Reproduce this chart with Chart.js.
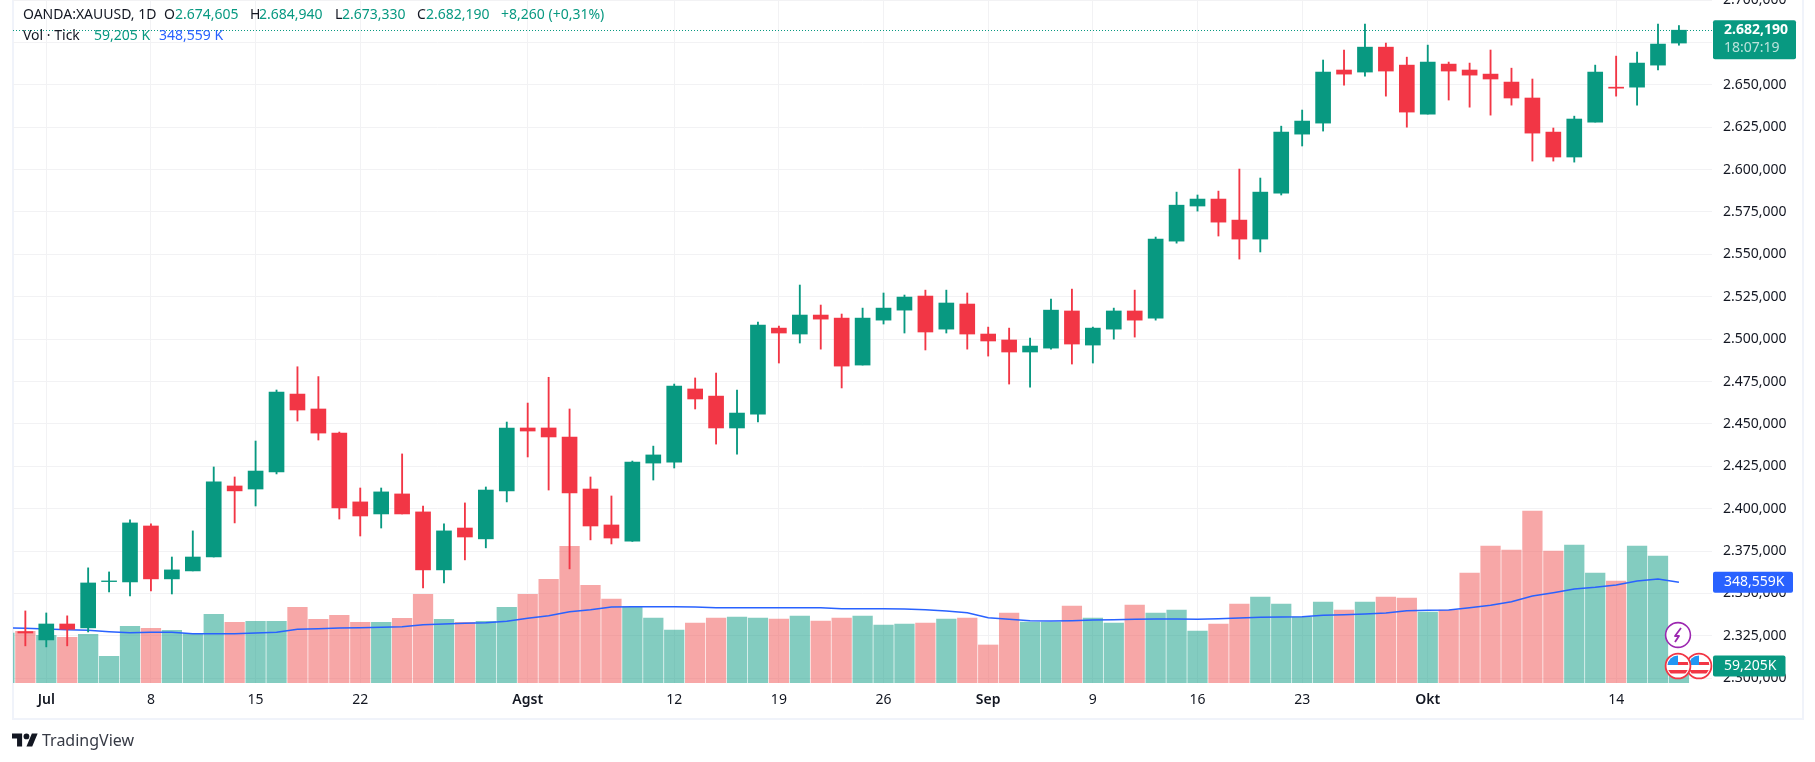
<!DOCTYPE html>
<html><head><meta charset="utf-8">
<script src="https://cdn.jsdelivr.net/npm/chart.js@4"></script>
<style>
html,body{margin:0;padding:0;background:#fff;overflow:hidden;width:1815px;height:762px}
#wrap{position:relative;width:1815px;height:762px;font-family:"Noto Sans",sans-serif}
#frame{position:absolute;left:12px;top:-2px;width:1788px;height:718px;border:2px solid #F0F3FA}
canvas{position:absolute;left:0;top:0}
.t{position:absolute;font-size:14px;line-height:18px;white-space:nowrap;color:#131722;transform:translateY(-50%)}
.g{color:#089981}.b{color:#2962FF}
.ic{position:absolute}
</style></head><body><div id="wrap">
<div id="frame"></div>
<canvas id="c" width="1815" height="762"></canvas>
<div class="t" style="left:23px;top:14px">OANDA:XAUUSD, 1D</div>
<div class="t" style="left:164px;top:14px">O</div><div class="t g" style="left:175px;top:14px">2.674,605</div>
<div class="t" style="left:250px;top:14px">H</div><div class="t g" style="left:259px;top:14px">2.684,940</div>
<div class="t" style="left:335px;top:14px">L</div><div class="t g" style="left:342px;top:14px">2.673,330</div>
<div class="t" style="left:417px;top:14px">C</div><div class="t g" style="left:426px;top:14px">2.682,190</div>
<div class="t g" style="left:501px;top:14px">+8,260 (+0,31%)</div>
<div class="t" style="left:23px;top:35px">Vol · Tick</div>
<div class="t g" style="left:94px;top:35px">59,205 K</div>
<div class="t b" style="left:159px;top:35px">348,559 K</div>
<svg class="ic" style="left:12px;top:733px" width="26" height="14" viewBox="0 4 36 18"><path fill="#131722" d="M14 22H7V11H0V4h14v18zM28 22h-8l7.5-18h8L28 22z"/><circle fill="#131722" cx="20" cy="8" r="4"/></svg>
<div class="t" style="left:42px;top:740px;font-size:16px;color:#363A45">TradingView</div>
<svg class="ic" style="left:1664px;top:621px" width="28" height="28" viewBox="0 0 28 28"><circle cx="14" cy="14" r="12.4" fill="#fff" stroke="#9C27B0" stroke-width="1.6"/><path d="M17 7l-6 8h4l-4 6" fill="none" stroke="#9C27B0" stroke-width="1.8" stroke-linejoin="round"/></svg>
<svg class="ic" style="left:1685px;top:652px" width="28" height="28" viewBox="0 0 28 28"><defs><clipPath id="k1"><circle cx="14" cy="14" r="10.5"/></clipPath></defs><circle cx="14" cy="14" r="12.4" fill="#fff" stroke="#F23645" stroke-width="1.8"/><g clip-path="url(#k1)"><rect x="3" y="10" width="22" height="3" fill="#F23645"/><rect x="3" y="18" width="22" height="3.5" fill="#F23645"/><rect x="3" y="3" width="11" height="10" fill="#2196F3"/></g></svg>
<svg class="ic" style="left:1664px;top:652px" width="28" height="28" viewBox="0 0 28 28"><defs><clipPath id="k2"><circle cx="14" cy="14" r="10.5"/></clipPath></defs><circle cx="14" cy="14" r="12.4" fill="#fff" stroke="#F23645" stroke-width="1.8"/><g clip-path="url(#k2)"><rect x="3" y="10" width="22" height="3" fill="#F23645"/><rect x="3" y="18" width="22" height="3.5" fill="#F23645"/><rect x="3" y="3" width="11" height="10" fill="#2196F3"/></g></svg>
</div>
<script>
const FONT='"Noto Sans",sans-serif';
const GRID='#F2F2F4';
const UP='#089981',DOWN='#F23645',UPV='rgba(8,153,129,0.5)',DOWNV='rgba(240,80,80,0.5)';
// daily candles from 28 Jun to 17 Oct
const opens=[2327.5,2322.6,2332.0,2329.7,2357.0,2356.8,2389.8,2358.6,2363.3,2371.5,2413.4,2411.6,2421.7,2467.6,2458.8,2444.6,2404.0,2396.9,2408.7,2398.1,2363.9,2388.6,2382.2,2410.5,2447.6,2447.6,2442.3,2411.6,2390.4,2380.9,2426.9,2427.5,2470.6,2466.4,2447.6,2455.8,2506.5,2503.0,2514.2,2512.4,2484.7,2511.2,2517.1,2525.4,2505.9,2520.7,2503.0,2499.5,2492.4,2494.7,2516.6,2496.5,2505.9,2516.6,2512.4,2557.8,2578.5,2582.6,2570.2,2559.0,2586.1,2620.9,2627.4,2658.7,2657.5,2672.2,2661.6,2632.7,2662.2,2658.7,2656.3,2651.6,2642.2,2622.1,2607.4,2628.0,2648.6,2648.6,2661.6,2674.605];
const highs=[2339.7,2338.5,2336.8,2365.1,2362.7,2393.4,2391.0,2371.5,2386.9,2424.6,2418.7,2439.9,2470.0,2483.7,2477.9,2445.2,2412.2,2412.2,2432.3,2401.6,2391.0,2403.4,2412.8,2451.1,2462.3,2477.5,2458.8,2418.7,2407.5,2428.1,2436.9,2473.5,2477.1,2480.0,2470.0,2510.1,2507.7,2531.9,2520.1,2514.8,2518.3,2527.2,2526.0,2528.9,2528.9,2527.2,2507.1,2506.5,2500.6,2523.6,2529.5,2507.1,2518.3,2528.9,2560.2,2586.7,2585.0,2587.3,2600.3,2595.0,2625.6,2635.1,2664.6,2670.5,2685.8,2674.6,2666.3,2673.4,2663.4,2662.8,2670.5,2659.8,2653.4,2624.5,2631.5,2661.6,2666.9,2669.3,2685.8,2684.94];
const lows=[2319.1,2318.5,2319.1,2327.3,2350.9,2348.6,2351.5,2349.7,2363.3,2371.5,2391.6,2401.6,2420.5,2451.7,2440.5,2393.9,2383.9,2388.6,2396.9,2353.3,2356.2,2369.8,2376.9,2404.0,2430.5,2411.0,2364.5,2381.6,2379.2,2380.7,2416.9,2424.0,2458.8,2438.1,2432.2,2451.1,2485.9,2497.7,2494.1,2471.2,2484.7,2508.9,2503.6,2493.6,2503.6,2494.1,2490.0,2473.5,2471.7,2494.1,2485.3,2485.9,2500.0,2501.2,2511.2,2556.6,2575.5,2560.8,2547.2,2551.4,2585.0,2613.9,2622.7,2649.8,2655.1,2643.3,2625.0,2632.7,2641.0,2636.8,2632.1,2638.0,2605.0,2605.0,2604.4,2628.0,2643.3,2638.0,2658.7,2673.33];
const closes=[2326.7,2332.0,2328.9,2356.2,2357.4,2391.6,2358.6,2363.9,2371.5,2415.8,2410.5,2422.2,2468.8,2458.2,2444.6,2400.4,2395.7,2409.9,2396.9,2363.9,2386.9,2383.3,2411.0,2447.6,2445.8,2442.3,2409.3,2389.8,2382.7,2427.5,2431.7,2472.3,2464.7,2447.6,2456.4,2508.3,2503.6,2514.2,2511.8,2484.1,2512.4,2518.3,2524.8,2504.2,2521.3,2503.0,2498.9,2492.4,2495.9,2517.1,2497.1,2506.5,2516.6,2511.2,2559.0,2579.0,2582.6,2569.0,2559.0,2586.7,2622.1,2628.6,2657.5,2656.3,2672.2,2658.1,2633.9,2663.4,2658.1,2655.7,2653.4,2642.2,2621.5,2607.4,2629.8,2657.5,2648.0,2662.8,2674.0,2682.19];
// tick volume in thousands
const volumes=[178.8,164.9,158.0,168.4,92.3,196.0,189.2,182.2,170.7,237.6,209.9,213.4,213.4,261.8,220.3,234.1,209.9,209.9,223.8,306.8,220.3,209.9,213.4,261.8,306.8,358.7,472.9,337.9,290.7,263.0,224.9,183.4,207.6,224.9,228.4,224.9,221.5,231.8,214.5,224.9,231.8,200.7,204.2,207.6,221.5,224.9,131.5,242.2,211.0,211.0,266.4,224.9,207.6,269.9,242.2,252.6,179.9,204.2,273.4,297.6,273.4,228.4,280.3,252.6,280.3,297.6,294.1,245.7,252.6,380.6,474.0,460.2,595.2,456.7,477.5,380.6,352.9,474.0,439.4,59.205];
const volMA=[189.2,186.8,184.5,182.2,177.6,174.2,175.3,175.3,170.7,170.7,170.7,173.0,175.3,185.7,188.0,190.3,191.5,192.6,194.9,201.8,204.2,206.5,208.8,213.4,223.8,233.0,246.8,253.7,263.0,264.0,264.0,264.0,263.0,260.7,260.7,260.7,260.7,260.7,260.7,257.2,257.2,257.2,256.0,253.7,249.1,243.4,226.0,220.3,215.7,214.5,215.7,218.0,219.1,220.3,221.5,221.5,220.3,222.6,224.9,227.2,228.4,229.5,234.1,236.4,238.8,242.2,250.3,251.4,252.6,260.7,268.7,281.4,301.0,312.6,325.3,331.0,339.1,352.9,359.9,348.559];
// the session before the first candle: only its volume sliver and MA are visible
const priorVolume=173, priorMA=191.5;
// x-axis tick labels: bar number -> text
const xTickBars=[1,6,11,16,24,31,36,41,46,51,56,61,67,76];
const xTickText=['Jul','8','15','22','Agst','12','19','26','Sep','9','16','23','Okt','14'];
const xTickBold=['Jul','Agst','Sep','Okt'];
const lastPrice=2682.19, countdown='18:07:19', lastVolText='59,205 K', lastMAText='348,559 K', lastPriceText='2.682,190';

const idx=opens.map((_,i)=>i);
const isUp=i=>closes[i]>=opens[i];
const fmtPrice=v=>{const s=String(Math.round(v));return s[0]+'.'+s.slice(1)+',000';};

const overlay={id:'overlay',
 beforeDatasetsDraw(ch){const {ctx,chartArea:a,scales:{y}}=ch;const p=Math.round(y.getPixelForValue(lastPrice))+.5;
  ctx.save();ctx.strokeStyle=UP;ctx.lineWidth=1;ctx.setLineDash([1,2]);ctx.beginPath();ctx.moveTo(a.left,p);ctx.lineTo(a.right,p);ctx.stroke();ctx.restore();},
 afterDraw(ch){const {ctx,chartArea:a,scales:{y,v}}=ch;ctx.save();ctx.textBaseline='middle';ctx.textAlign='left';
  const L=a.right+1;
  const pp=y.getPixelForValue(lastPrice);
  ctx.fillStyle=UP;ctx.beginPath();ctx.roundRect(L,pp-10,83,39,2);ctx.fill();
  ctx.fillStyle='#fff';ctx.font='bold 14px '+FONT;ctx.fillText(lastPriceText,a.right+12,pp);
  ctx.fillStyle='rgba(255,255,255,.72)';ctx.font='14px '+FONT;ctx.fillText(countdown,a.right+12,pp+18);
  const mp=v.getPixelForValue(volMA[volMA.length-1]);
  ctx.fillStyle='#2962FF';ctx.beginPath();ctx.roundRect(L,mp-10.5,80,21,2);ctx.fill();
  ctx.fillStyle='#fff';ctx.font='14px '+FONT;ctx.fillText(lastMAText.replace(' ',''),a.right+12,mp);
  const vp=v.getPixelForValue(volumes[volumes.length-1]);
  ctx.fillStyle=UP;ctx.beginPath();ctx.roundRect(L,vp-10.5,72.5,21,2);ctx.fill();
  ctx.fillStyle='#fff';ctx.fillText(lastVolText.replace(' ',''),a.right+12,vp);
  ctx.restore();}
};

new Chart(document.getElementById('c'),{
 type:'bar',
 plugins:[overlay],
 data:{datasets:[
  {label:'Body',yAxisID:'y',grouped:false,order:1,barThickness:15,
   data:idx.map(i=>({x:i,y:[opens[i],closes[i]]})),backgroundColor:idx.map(i=>isUp(i)?UP:DOWN)},
  {label:'Wick',yAxisID:'y',grouped:false,order:2,barThickness:1.2,
   data:idx.map(i=>({x:i,y:[lows[i],highs[i]]})),backgroundColor:idx.map(i=>isUp(i)?UP:DOWN)},
  {type:'line',label:'Vol MA',yAxisID:'v',order:3,borderColor:'#2962FF',borderWidth:1.5,pointRadius:0,tension:0,
   data:[{x:-1,y:priorMA},...idx.map(i=>({x:i,y:volMA[i]}))]},
  {label:'Volume',yAxisID:'v',grouped:false,order:4,barThickness:19.6,
   data:[{x:-1,y:priorVolume},...idx.map(i=>({x:i,y:volumes[i]}))],
   backgroundColor:[UPV,...idx.map(i=>isUp(i)?UPV:DOWNV)]}
 ]},
 options:{responsive:false,animation:false,devicePixelRatio:1,events:[],
  layout:{padding:{left:13,right:0,top:0,bottom:0}},
  plugins:{legend:{display:false},tooltip:{enabled:false}},
  scales:{
   x:{type:'linear',offset:false,min:-0.59,max:80.58,
    border:{display:false},
    grid:{color:GRID,lineWidth:1,drawTicks:false,offset:false},
    afterBuildTicks(s){s.ticks=xTickBars.map(v=>({value:v}));},
    afterFit(s){s.height=79;s.paddingLeft=0;s.paddingRight=0;},
    ticks:{autoSkip:false,maxRotation:0,padding:9,color:'#131722',
     callback:v=>xTickText[xTickBars.indexOf(v)],
     font:c=>({family:FONT,size:14,weight:xTickBold.includes(xTickText[xTickBars.indexOf(c.tick&&c.tick.value)])?'600':'400'})}},
   y:{position:'right',min:2297.2,max:2700,
    border:{display:false},
    grid:{color:GRID,lineWidth:1,drawTicks:false},
    afterFit(s){s.width=103;s.paddingTop=0;s.paddingBottom=0;},
    ticks:{stepSize:25,includeBounds:false,padding:11,color:'#131722',crossAlign:'near',
     callback:v=>fmtPrice(v),font:{family:FONT,size:14}}},
   v:{display:false,min:0,max:2363}
  }}
});
</script></body></html>
